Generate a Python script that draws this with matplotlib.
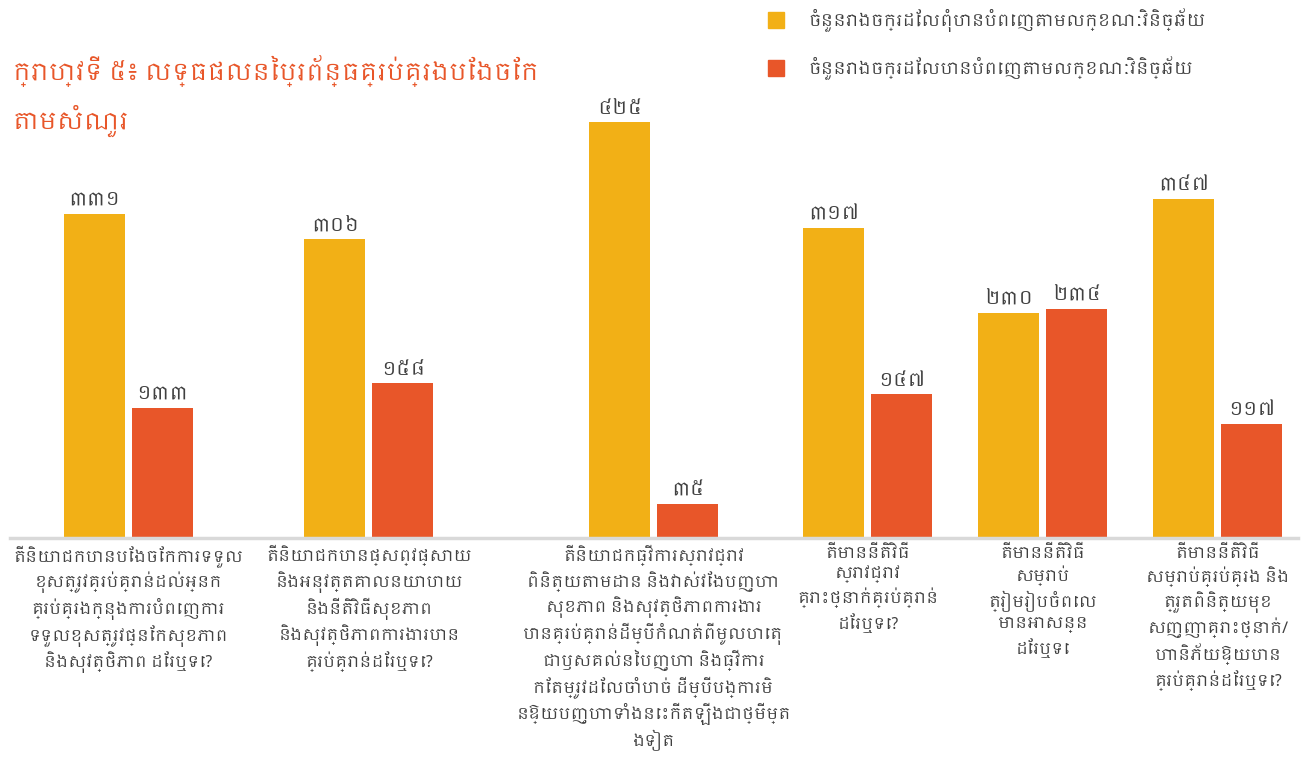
import matplotlib
matplotlib.use("Agg")
import matplotlib.pyplot as plt
from matplotlib import font_manager
from matplotlib.patches import Rectangle

# Data
questions = [
    "តើនិយោជកបានបែងចែកការទទួល\nខុសត្រូវគ្រប់គ្រាន់ដល់អ្នក\nគ្រប់គ្រងក្នុងការបំពេញការ\nទទួលខុសត្រូវផ្នែកសុខភាព\nនិងសុវត្ថិភាព ដែរឬទេ?",
    "តើនិយោជកបានផ្សព្វផ្សាយ\nនិងអនុវត្តគោលនយោបាយ\nនិងនីតិវិធីសុខភាព\nនិងសុវត្ថិភាពការងារបាន\nគ្រប់គ្រាន់ដែរឬទេ?",
    "តើនិយោជកធ្វើការស្រាវជ្រាវ\nពិនិត្យតាមដាន និងវាស់វែងបញ្ហា\nសុខភាព និងសុវត្ថិភាពការងារ\nបានគ្រប់គ្រាន់ដើម្បីកំណត់ពីមូលហេតុ\nជាឫសគល់នៃបញ្ហា និងធ្វើការ\nកែតម្រូវដែលចាំបាច់ ដើម្បីបង្ការមិ\nនឱ្យបញ្ហាទាំងនេះកើតឡើងជាថ្មីម្ត\nងទៀត",
    "តើមាននីតិវិធី\nស្រាវជ្រាវ\nគ្រោះថ្នាក់គ្រប់គ្រាន់\nដែរឬទេ?",
    "តើមាននីតិវិធី\nសម្រាប់\nត្រៀមរៀបចំពេល\nមានអាសន្ន\nដែរឬទេ",
    "តើមាននីតិវិធី\nសម្រាប់គ្រប់គ្រង និង\nត្រួតពិនិត្យមុខ\nសញ្ញាគ្រោះថ្នាក់/\nហានិភ័យឱ្យបាន\nគ្រប់គ្រាន់ដែរឬទេ?",
]
not_met = [331, 306, 425, 317, 230, 347]
met = [133, 158, 35, 147, 234, 117]
series_names = [
    "ចំនួនរោងចក្រដែលពុំបានបំពេញតាមលក្ខណៈវិនិច្ឆ័យ",
    "ចំនួនរោងចក្រដែលបានបំពេញតាមលក្ខណៈវិនិច្ឆ័យ",
]
title = "ក្រាហ្វទី ៥៖ លទ្ធផលនៃប្រព័ន្ធគ្រប់គ្រងបែងចែក\nតាមសំណួរ"

# Layout (group centres follow the uneven table columns of the original)
group_x = [128.5, 369, 653.5, 868, 1043, 1218]
bar_w = 61
offset = 34
YELLOW = "#F2B016"
ORANGE = "#E85629"
TEXT = "#404040"

# Pick a Khmer-capable font if one is installed
khmer = [f.name for f in font_manager.fontManager.ttflist if "khmer" in f.name.lower()]
families = ([khmer[0]] if khmer else []) + ["DejaVu Sans"]
plt.rcParams["font.family"] = families

KHMER_DIGITS = str.maketrans("0123456789", "០១២៣៤៥៦៧៨៩")

fig = plt.figure(figsize=(13.08, 7.58), dpi=100)
W, H = 1308, 758
ax = fig.add_axes([10 / W, (H - 538) / H, 1288 / W, 538 / H])
ax.set_xlim(10, 1298)
ax.set_ylim(0, 550)
ax.axis("off")

for x, a, b in zip(group_x, not_met, met):
    ax.bar(x - offset, a, width=bar_w, color=YELLOW)
    ax.bar(x + offset, b, width=bar_w, color=ORANGE)
    ax.annotate(str(a).translate(KHMER_DIGITS), (x - offset, a), xytext=(0, 3),
                textcoords="offset points", ha="center", va="bottom",
                fontsize=14, color=TEXT)
    ax.annotate(str(b).translate(KHMER_DIGITS), (x + offset, b), xytext=(0, 3),
                textcoords="offset points", ha="center", va="bottom",
                fontsize=14, color=TEXT)

# baseline
ax.axhline(0, color="#d9d9d9", linewidth=2.5, clip_on=False)

# category labels below the axis
for x, q in zip(group_x, questions):
    ax.annotate(q, (x, 0), xytext=(0, -5), textcoords="offset points",
                ha="center", va="top", fontsize=11.5, color=TEXT,
                linespacing=1.3, annotation_clip=False)

# title
fig.text(13 / W, 1 - 55 / H, title, ha="left", va="top", fontsize=17,
         color=ORANGE, linespacing=1.75)

# legend
for i, (name, col) in enumerate(zip(series_names, [YELLOW, ORANGE])):
    y = 1 - (20 + 48 * i) / H
    fig.patches.append(Rectangle((768 / W, y - 8 / H), 16 / W, 16 / H,
                                 transform=fig.transFigure, color=col))
    fig.text(808 / W, y, name, ha="left", va="center", fontsize=12, color=TEXT)

fig.savefig("out.png", dpi=100, facecolor="white")
